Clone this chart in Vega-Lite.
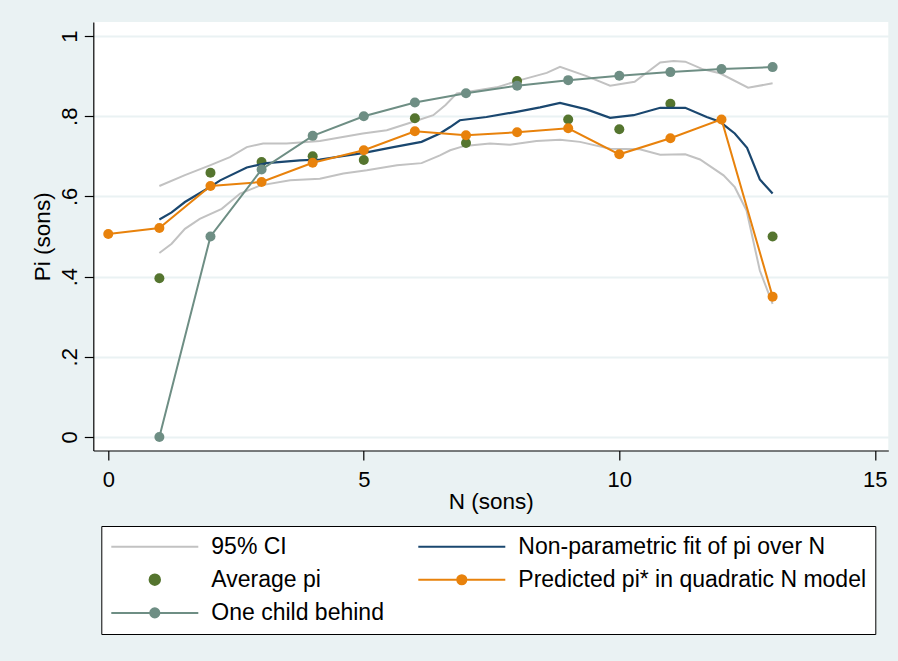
{
  "$schema": "https://vega.github.io/schema/vega-lite/v6.json",
  "width": 795,
  "height": 428.5,
  "autosize": {"type": "none"},
  "padding": {"left": 93.3, "top": 22, "right": 9.7, "bottom": 210.5},
  "background": "#eaf2f3",
  "config": {
    "view": {"fill": "white", "stroke": null},
    "font": "Liberation Sans",
    "axis": {
      "domainColor": "black", "domainWidth": 1.2,
      "tickColor": "black", "tickWidth": 1.2,
      "labelColor": "black", "labelFont": "Liberation Sans", "labelFontSize": 22,
      "labelFlush": false, "labelOverlap": false,
      "titleColor": "black", "titleFont": "Liberation Sans", "titleFontSize": 22.5, "titleFontWeight": "normal"
    }
  },
  "datasets": {
    "ci": [
      {"series": "95% CI", "part": "upper", "N": 1.0, "v": 0.626},
      {"series": "95% CI", "part": "upper", "N": 1.5, "v": 0.653},
      {"series": "95% CI", "part": "upper", "N": 2.0, "v": 0.678},
      {"series": "95% CI", "part": "upper", "N": 2.38, "v": 0.698},
      {"series": "95% CI", "part": "upper", "N": 2.71, "v": 0.723},
      {"series": "95% CI", "part": "upper", "N": 3.03, "v": 0.732},
      {"series": "95% CI", "part": "upper", "N": 3.49, "v": 0.732},
      {"series": "95% CI", "part": "upper", "N": 4.14, "v": 0.738},
      {"series": "95% CI", "part": "upper", "N": 4.98, "v": 0.757},
      {"series": "95% CI", "part": "upper", "N": 5.45, "v": 0.765},
      {"series": "95% CI", "part": "upper", "N": 5.97, "v": 0.786},
      {"series": "95% CI", "part": "upper", "N": 6.36, "v": 0.8025},
      {"series": "95% CI", "part": "upper", "N": 6.6, "v": 0.828},
      {"series": "95% CI", "part": "upper", "N": 6.82, "v": 0.857},
      {"series": "95% CI", "part": "upper", "N": 7.14, "v": 0.863},
      {"series": "95% CI", "part": "upper", "N": 7.6, "v": 0.872},
      {"series": "95% CI", "part": "upper", "N": 8.06, "v": 0.89},
      {"series": "95% CI", "part": "upper", "N": 8.58, "v": 0.908},
      {"series": "95% CI", "part": "upper", "N": 8.84, "v": 0.923},
      {"series": "95% CI", "part": "upper", "N": 9.36, "v": 0.9},
      {"series": "95% CI", "part": "upper", "N": 9.82, "v": 0.876},
      {"series": "95% CI", "part": "upper", "N": 10.3, "v": 0.886},
      {"series": "95% CI", "part": "upper", "N": 10.8, "v": 0.934},
      {"series": "95% CI", "part": "upper", "N": 11.06, "v": 0.938},
      {"series": "95% CI", "part": "upper", "N": 11.29, "v": 0.936},
      {"series": "95% CI", "part": "upper", "N": 11.64, "v": 0.917},
      {"series": "95% CI", "part": "upper", "N": 11.97, "v": 0.907},
      {"series": "95% CI", "part": "upper", "N": 12.52, "v": 0.871},
      {"series": "95% CI", "part": "upper", "N": 13.0, "v": 0.882},
      {"series": "95% CI", "part": "lower", "N": 1.0, "v": 0.459},
      {"series": "95% CI", "part": "lower", "N": 1.24, "v": 0.482},
      {"series": "95% CI", "part": "lower", "N": 1.5, "v": 0.519},
      {"series": "95% CI", "part": "lower", "N": 1.79, "v": 0.544},
      {"series": "95% CI", "part": "lower", "N": 2.22, "v": 0.569},
      {"series": "95% CI", "part": "lower", "N": 2.58, "v": 0.607},
      {"series": "95% CI", "part": "lower", "N": 2.98, "v": 0.6275},
      {"series": "95% CI", "part": "lower", "N": 3.56, "v": 0.64},
      {"series": "95% CI", "part": "lower", "N": 4.14, "v": 0.644},
      {"series": "95% CI", "part": "lower", "N": 4.6, "v": 0.657},
      {"series": "95% CI", "part": "lower", "N": 5.06, "v": 0.665},
      {"series": "95% CI", "part": "lower", "N": 5.65, "v": 0.6775},
      {"series": "95% CI", "part": "lower", "N": 6.13, "v": 0.683},
      {"series": "95% CI", "part": "lower", "N": 6.49, "v": 0.7025},
      {"series": "95% CI", "part": "lower", "N": 6.69, "v": 0.715},
      {"series": "95% CI", "part": "lower", "N": 6.97, "v": 0.726},
      {"series": "95% CI", "part": "lower", "N": 7.47, "v": 0.732},
      {"series": "95% CI", "part": "lower", "N": 7.86, "v": 0.729},
      {"series": "95% CI", "part": "lower", "N": 8.38, "v": 0.738},
      {"series": "95% CI", "part": "lower", "N": 8.84, "v": 0.7415},
      {"series": "95% CI", "part": "lower", "N": 9.23, "v": 0.736},
      {"series": "95% CI", "part": "lower", "N": 9.82, "v": 0.719},
      {"series": "95% CI", "part": "lower", "N": 10.4, "v": 0.7175},
      {"series": "95% CI", "part": "lower", "N": 10.8, "v": 0.704},
      {"series": "95% CI", "part": "lower", "N": 11.29, "v": 0.705},
      {"series": "95% CI", "part": "lower", "N": 11.58, "v": 0.692},
      {"series": "95% CI", "part": "lower", "N": 12.04, "v": 0.6525},
      {"series": "95% CI", "part": "lower", "N": 12.26, "v": 0.623},
      {"series": "95% CI", "part": "lower", "N": 12.49, "v": 0.565},
      {"series": "95% CI", "part": "lower", "N": 12.75, "v": 0.415},
      {"series": "95% CI", "part": "lower", "N": 13.0, "v": 0.332}
    ],
    "avg": [
      {"series": "Average pi", "N": 1, "v": 0.396},
      {"series": "Average pi", "N": 2, "v": 0.659},
      {"series": "Average pi", "N": 3, "v": 0.686},
      {"series": "Average pi", "N": 4, "v": 0.7},
      {"series": "Average pi", "N": 5, "v": 0.691},
      {"series": "Average pi", "N": 6, "v": 0.795},
      {"series": "Average pi", "N": 7, "v": 0.733},
      {"series": "Average pi", "N": 8, "v": 0.888},
      {"series": "Average pi", "N": 9, "v": 0.792},
      {"series": "Average pi", "N": 10, "v": 0.7675},
      {"series": "Average pi", "N": 11, "v": 0.831},
      {"series": "Average pi", "N": 13, "v": 0.5}
    ],
    "np": [
      {"series": "Non-parametric fit of pi over N", "N": 1.0, "v": 0.5425},
      {"series": "Non-parametric fit of pi over N", "N": 1.24, "v": 0.56},
      {"series": "Non-parametric fit of pi over N", "N": 1.5, "v": 0.586},
      {"series": "Non-parametric fit of pi over N", "N": 2.0, "v": 0.624},
      {"series": "Non-parametric fit of pi over N", "N": 2.19, "v": 0.64},
      {"series": "Non-parametric fit of pi over N", "N": 2.71, "v": 0.672},
      {"series": "Non-parametric fit of pi over N", "N": 3.1, "v": 0.683},
      {"series": "Non-parametric fit of pi over N", "N": 3.75, "v": 0.69},
      {"series": "Non-parametric fit of pi over N", "N": 4.14, "v": 0.692},
      {"series": "Non-parametric fit of pi over N", "N": 4.98, "v": 0.708},
      {"series": "Non-parametric fit of pi over N", "N": 5.58, "v": 0.723},
      {"series": "Non-parametric fit of pi over N", "N": 6.13, "v": 0.736},
      {"series": "Non-parametric fit of pi over N", "N": 6.49, "v": 0.757},
      {"series": "Non-parametric fit of pi over N", "N": 6.69, "v": 0.773},
      {"series": "Non-parametric fit of pi over N", "N": 6.88, "v": 0.79},
      {"series": "Non-parametric fit of pi over N", "N": 7.4, "v": 0.798},
      {"series": "Non-parametric fit of pi over N", "N": 7.99, "v": 0.811},
      {"series": "Non-parametric fit of pi over N", "N": 8.45, "v": 0.822},
      {"series": "Non-parametric fit of pi over N", "N": 8.84, "v": 0.833},
      {"series": "Non-parametric fit of pi over N", "N": 9.36, "v": 0.817},
      {"series": "Non-parametric fit of pi over N", "N": 9.82, "v": 0.796},
      {"series": "Non-parametric fit of pi over N", "N": 10.28, "v": 0.8025},
      {"series": "Non-parametric fit of pi over N", "N": 10.8, "v": 0.821},
      {"series": "Non-parametric fit of pi over N", "N": 11.29, "v": 0.821},
      {"series": "Non-parametric fit of pi over N", "N": 11.71, "v": 0.798},
      {"series": "Non-parametric fit of pi over N", "N": 11.97, "v": 0.786},
      {"series": "Non-parametric fit of pi over N", "N": 12.26, "v": 0.757},
      {"series": "Non-parametric fit of pi over N", "N": 12.5, "v": 0.721},
      {"series": "Non-parametric fit of pi over N", "N": 12.75, "v": 0.6425},
      {"series": "Non-parametric fit of pi over N", "N": 13.0, "v": 0.607}
    ],
    "pred": [
      {"series": "Predicted pi* in quadratic N model", "N": 0, "v": 0.506},
      {"series": "Predicted pi* in quadratic N model", "N": 1, "v": 0.521},
      {"series": "Predicted pi* in quadratic N model", "N": 2, "v": 0.626},
      {"series": "Predicted pi* in quadratic N model", "N": 3, "v": 0.636},
      {"series": "Predicted pi* in quadratic N model", "N": 4, "v": 0.684},
      {"series": "Predicted pi* in quadratic N model", "N": 5, "v": 0.715},
      {"series": "Predicted pi* in quadratic N model", "N": 6, "v": 0.7625},
      {"series": "Predicted pi* in quadratic N model", "N": 7, "v": 0.7525},
      {"series": "Predicted pi* in quadratic N model", "N": 8, "v": 0.76},
      {"series": "Predicted pi* in quadratic N model", "N": 9, "v": 0.77},
      {"series": "Predicted pi* in quadratic N model", "N": 10, "v": 0.705},
      {"series": "Predicted pi* in quadratic N model", "N": 11, "v": 0.745},
      {"series": "Predicted pi* in quadratic N model", "N": 12, "v": 0.792},
      {"series": "Predicted pi* in quadratic N model", "N": 13, "v": 0.35}
    ],
    "child": [
      {"series": "One child behind", "N": 1, "v": 0.0},
      {"series": "One child behind", "N": 2, "v": 0.5},
      {"series": "One child behind", "N": 3, "v": 0.667},
      {"series": "One child behind", "N": 4, "v": 0.751},
      {"series": "One child behind", "N": 5, "v": 0.8},
      {"series": "One child behind", "N": 6, "v": 0.834},
      {"series": "One child behind", "N": 7, "v": 0.8575},
      {"series": "One child behind", "N": 8, "v": 0.876},
      {"series": "One child behind", "N": 9, "v": 0.89},
      {"series": "One child behind", "N": 10, "v": 0.901},
      {"series": "One child behind", "N": 11, "v": 0.91},
      {"series": "One child behind", "N": 12, "v": 0.9175},
      {"series": "One child behind", "N": 13, "v": 0.9225}
    ]
  },
  "encoding": {
    "x": {
      "field": "N", "type": "quantitative",
      "scale": {"domain": [-0.293, 15.264], "nice": false, "zero": false},
      "axis": {
        "title": "N (sons)", "values": [0, 5, 10, 15], "grid": false,
        "tickSize": 9.5, "labelPadding": 9.7, "labelBaseline": "top",
        "titleY": 57.5, "titleBaseline": "alphabetic", "titleAlign": "center"
      }
    },
    "y": {
      "field": "v", "type": "quantitative",
      "scale": {"domain": [-0.0338, 1.035], "nice": false, "zero": false},
      "axis": {
        "title": "Pi (sons)", "values": [0, 0.2, 0.4, 0.6, 0.8, 1],
        "grid": true, "gridColor": "#eaf2f3", "gridWidth": 2,
        "tickSize": 9, "labelPadding": 8,
        "labelAngle": 270, "labelAlign": "center", "labelBaseline": "alphabetic",
        "labelExpr": "datum.value < 0.01 ? '0' : datum.value > 0.99 ? '1' : '.' + round(datum.value * 10)",
        "titleAngle": 270, "titleAlign": "center", "titleBaseline": "alphabetic",
        "titleX": -43.8, "titleY": 214.25
      }
    },
    "color": {
      "field": "series", "type": "nominal",
      "scale": {
        "domain": ["95% CI", "Average pi", "One child behind", "Non-parametric fit of pi over N", "Predicted pi* in quadratic N model"],
        "range": ["#c2c2c2", "#55752f", "#6e8e84", "#1a476f", "#e8820c"]
      },
      "legend": {
        "orient": "none", "legendX": 8, "legendY": 504,
        "title": null, "columns": 2,
        "fillColor": "white", "strokeColor": "black",
        "padding": 9, "rowPadding": 9.2, "columnPadding": 33,
        "clipHeight": 23,
        "labelFont": "Liberation Sans", "labelFontSize": 23, "labelColor": "black",
        "labelOffset": 12, "labelLimit": 600,
        "symbolType": "stroke", "symbolSize": 7569, "symbolStrokeWidth": 2,
        "encode": {
          "symbols": {
            "update": {
              "shape": {"signal": "datum.value == 'Average pi' ? 'M0.12,0A0.12,0.12 0 1 1 -0.12,0A0.12,0.12 0 1 1 0.12,0Z' : (datum.value == '95% CI' || datum.value == 'Non-parametric fit of pi over N') ? 'M-1,0L1,0' : 'M-1,0L1,0M0.105,0A0.105,0.105 0 1 1 -0.105,0A0.105,0.105 0 1 1 0.105,0Z'"},
              "fill": {"signal": "(datum.value == '95% CI' || datum.value == 'Non-parametric fit of pi over N') ? 'transparent' : scale('color', datum.value)"},
              "stroke": {"signal": "datum.value == 'Average pi' ? 'transparent' : scale('color', datum.value)"},
              "strokeWidth": {"value": 2},
              "opacity": {"value": 1}
            }
          }
        }
      }
    }
  },
  "layer": [
    {
      "data": {"name": "ci"},
      "mark": {"type": "line", "strokeWidth": 2},
      "encoding": {"detail": {"field": "part", "type": "nominal"}}
    },
    {
      "data": {"name": "avg"},
      "mark": {"type": "circle", "size": 100, "opacity": 1}
    },
    {
      "data": {"name": "np"},
      "mark": {"type": "line", "strokeWidth": 2.2}
    },
    {
      "data": {"name": "pred"},
      "mark": {"type": "line", "strokeWidth": 2, "point": {"filled": true, "size": 100, "opacity": 1}}
    },
    {
      "data": {"name": "child"},
      "mark": {"type": "line", "strokeWidth": 2, "point": {"filled": true, "size": 100, "opacity": 1}}
    }
  ]
}
